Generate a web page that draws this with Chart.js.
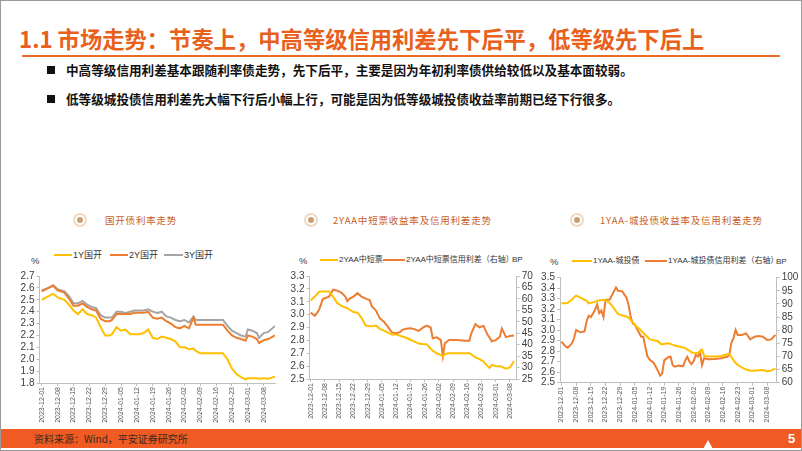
<!DOCTYPE html>
<html lang="zh-CN">
<head>
<meta charset="utf-8">
<title>市场走势</title>
<script src="https://cdn.jsdelivr.net/npm/chart.js@4.4.1/dist/chart.umd.min.js"></script>
<style>
  body { margin: 0; background: #fff; }
  .slide { position: relative; width: 802px; height: 451px; overflow: hidden; background: #fff;
           font-family: "Liberation Sans", "Noto Sans CJK SC", sans-serif; }
  .frame { position: absolute; left: 0; top: 0; width: 800px; height: 449px; border: 1px solid #9a9a9a; pointer-events: none; }
  .abs { position: absolute; white-space: nowrap; }
  .title { left: 19px; top: 24px; font-size: 22.3px; line-height: 28px; color: #e8601c; font-weight: 700; font-family: "Noto Sans CJK SC", sans-serif; }
  .rule { left: 22px; top: 55px; width: 758px; height: 2px; background: #ec6a2a; }
  .bullet { left: 66px; font-size: 12.6px; line-height: 16px; color: #111; font-weight: 700; font-family: "Noto Sans CJK SC", sans-serif; }
  .sq { left: 47px; width: 8px; height: 8px; background: #111; }
  .sec { font-size: 9.5px; line-height: 14px; color: #c8602a; letter-spacing: 0.8px; font-family: "Noto Sans CJK SC", sans-serif; top: 213px; }
  .icon { width: 10px; height: 10px; border-radius: 50%; border: 2px solid #efd9c2; background: #fff; top: 213px; }
  .icon::after { content: ""; position: absolute; left: 2px; top: 2px; width: 6px; height: 6px; border-radius: 50%; background: #c9a074; }
  .leg { font-size: 8px; line-height: 12px; color: #333; }
  .legline { height: 2px; }
  .unit { font-size: 9.5px; line-height: 12px; color: #404040; }
  canvas { position: absolute; }
  .footer { left: 0; top: 429px; width: 802px; height: 19px; background: #ef5b22; }
  .src { left: 34px; top: 432px; font-size: 10px; line-height: 13px; color: #3a2a20; font-family: "Noto Sans CJK SC", sans-serif; }
  .page { left: 788px; top: 430px; font-size: 13px; line-height: 17px; color: #fff; font-weight: 700; }
  .logo { left: 703px; top: 440px; width: 0; height: 0; border-left: 5px solid transparent; border-right: 5px solid transparent; border-bottom: 9px solid #fff; }
</style>
</head>
<body>
<div class="slide">
  <div class="abs title">1.1 市场走势：节奏上，中高等级信用利差先下后平，低等级先下后上</div>
  <div class="abs rule"></div>

  <div class="abs sq" style="top:66px"></div>
  <div class="abs bullet" style="top:62px">中高等级信用利差基本跟随利率债走势，先下后平，主要是因为年初利率债供给较低以及基本面较弱。</div>
  <div class="abs sq" style="top:95px"></div>
  <div class="abs bullet" style="top:91px">低等级城投债信用利差先大幅下行后小幅上行，可能是因为低等级城投债收益率前期已经下行很多。</div>

  <div class="abs icon" style="left:73px"></div>
  <div class="abs sec" style="left:105px">国开债利率走势</div>
  <div class="abs icon" style="left:304px"></div>
  <div class="abs sec" style="left:333px">2YAA中短票收益率及信用利差走势</div>
  <div class="abs icon" style="left:570px"></div>
  <div class="abs sec" style="left:600px">1YAA-城投债收益率及信用利差走势</div>

  <!-- chart 1 legend -->
  <div class="abs legline" style="left:54px;top:254px;width:18px;background:#ffc000"></div>
  <div class="abs leg" style="left:73px;top:249px;font-size:9px">1Y国开</div>
  <div class="abs legline" style="left:110px;top:254px;width:18px;background:#ed7d31"></div>
  <div class="abs leg" style="left:129px;top:249px;font-size:9px">2Y国开</div>
  <div class="abs legline" style="left:164px;top:254px;width:19px;background:#a5a5a5"></div>
  <div class="abs leg" style="left:184px;top:249px;font-size:9px">3Y国开</div>
  <div class="abs unit" style="left:31px;top:255px">%</div>

  <!-- chart 2 legend -->
  <div class="abs legline" style="left:320px;top:259px;width:18px;background:#ffc000"></div>
  <div class="abs leg" style="left:339px;top:254px">2YAA中短票</div>
  <div class="abs legline" style="left:383px;top:259px;width:22px;background:#ed7d31"></div>
  <div class="abs leg" style="left:406px;top:254px">2YAA中短票信用利差（右轴）</div>
  <div class="abs leg" style="left:512px;top:254px">BP</div>
  <div class="abs unit" style="left:299px;top:255px">%</div>

  <!-- chart 3 legend -->
  <div class="abs legline" style="left:572px;top:260px;width:20px;background:#ffc000"></div>
  <div class="abs leg" style="left:593px;top:255px">1YAA-城投债</div>
  <div class="abs legline" style="left:645px;top:260px;width:22px;background:#ed7d31"></div>
  <div class="abs leg" style="left:668px;top:255px">1YAA-城投债信用利差（右轴）</div>
  <div class="abs leg" style="left:776px;top:256px">BP</div>
  <div class="abs unit" style="left:550px;top:256px">%</div>

  <canvas id="c1" width="285" height="160" style="left:0;top:266px"></canvas>
  <canvas id="c2" width="260" height="160" style="left:285px;top:266px"></canvas>
  <canvas id="c3" width="262" height="160" style="left:540px;top:266px"></canvas>

  <div class="abs footer"></div>
  <div class="abs src">资料来源：Wind，平安证券研究所</div>
  <div class="abs logo"></div>
  <div class="abs page">5</div>
  <div class="frame"></div>
</div>

<script>
// x axis: day offset from 2023-12-01, labelled weekly
const tickDays = [0, 7, 14, 21, 28, 35, 42, 49, 56, 63, 70, 77, 84, 91, 98];
const tickLabels = ['2023-12-01', '2023-12-08', '2023-12-15', '2023-12-22', '2023-12-29',
    '2024-01-05', '2024-01-12', '2024-01-19', '2024-01-26', '2024-02-02',
    '2024-02-09', '2024-02-16', '2024-02-23', '2024-03-01', '2024-03-08'];

// 国开债利率 (%)
const gkDays = [0, 3, 5, 7, 10, 12, 14, 16, 18, 20, 22, 24, 26, 28, 30, 31, 33, 35, 37, 39,
    41, 43, 45, 47, 49, 51, 53, 55, 57, 59, 61, 63, 65, 67, 68, 70, 75, 80, 82, 84,
    86, 88, 90, 91, 93, 95, 96, 98, 100, 103];
const gk1Y = [2.50, 2.53, 2.55, 2.52, 2.50, 2.46, 2.41, 2.38, 2.42, 2.38, 2.37, 2.35, 2.27, 2.20, 2.20,
    2.21, 2.27, 2.24, 2.25, 2.21, 2.21, 2.21, 2.22, 2.25, 2.18, 2.17, 2.19, 2.18, 2.17, 2.15,
    2.10, 2.10, 2.085, 2.09, 2.07, 2.05, 2.05, 2.05, 2.00, 1.92, 1.875, 1.85, 1.83, 1.84, 1.84,
    1.84, 1.835, 1.84, 1.835, 1.855];
const gk2Y = [2.57, 2.60, 2.62, 2.58, 2.56, 2.51, 2.45, 2.45, 2.47, 2.44, 2.42, 2.41, 2.34, 2.32, 2.32,
    2.33, 2.38, 2.38, 2.38, 2.38, 2.39, 2.39, 2.39, 2.40, 2.35, 2.34, 2.35, 2.32, 2.30, 2.27,
    2.26, 2.28, 2.26, 2.35, 2.29, 2.29, 2.29, 2.29, 2.24, 2.20, 2.18, 2.17, 2.155, 2.20, 2.19,
    2.17, 2.135, 2.16, 2.17, 2.20];
const gk3Y = [2.58, 2.60, 2.62, 2.59, 2.57, 2.53, 2.47, 2.47, 2.49, 2.46, 2.44, 2.43, 2.37, 2.35, 2.35,
    2.35, 2.40, 2.40, 2.39, 2.40, 2.41, 2.41, 2.41, 2.42, 2.40, 2.39, 2.40, 2.36, 2.35, 2.33,
    2.32, 2.33, 2.31, 2.36, 2.33, 2.33, 2.33, 2.33, 2.28, 2.24, 2.22, 2.20, 2.19, 2.25, 2.24,
    2.22, 2.18, 2.22, 2.23, 2.28];

// 2YAA中短票 收益率(%) / 信用利差(BP)
const aaDays = [0, 2, 4, 5, 6, 7, 9, 11, 13, 15, 17, 18, 19, 21, 23, 25, 27, 29, 30, 32,
    34, 36, 38, 40, 42, 44, 45, 47, 49, 51, 53, 55, 57, 59, 60, 62, 64, 65, 66, 68,
    72, 76, 78, 79, 81, 83, 85, 87, 88, 89, 91, 93, 94, 96, 98, 100];
const aaYield = [3.11, 3.14, 3.175, 3.18, 3.18, 3.18, 3.18, 3.14, 3.09, 3.07, 3.055, 3.05, 3.04, 3.02, 3.015,
    2.975, 2.915, 2.91, 2.91, 2.915, 2.89, 2.875, 2.86, 2.845, 2.845, 2.835, 2.83, 2.82, 2.805, 2.79,
    2.775, 2.772, 2.77, 2.735, 2.72, 2.70, 2.685, 2.676, 2.694, 2.70, 2.70, 2.70, 2.70, 2.69, 2.668,
    2.655, 2.635, 2.60, 2.585, 2.61, 2.60, 2.60, 2.595, 2.58, 2.59, 2.64];
const aaSpread = [54.0, 52.6, 55.0, 57.5, 60.0, 60.3, 61.0, 64.0, 63.6, 62.8, 61.0, 59.0, 60.0, 61.0, 62.5,
    61.0, 60.1, 59.5, 56.8, 55.0, 51.5, 50.0, 47.8, 45.3, 45.0, 45.5, 46.5, 47.0, 47.2, 46.8,
    46.0, 47.3, 48.3, 47.5, 42.8, 43.2, 42.0, 35.0, 40.6, 42.0, 42.0, 41.7, 41.7, 45.0, 49.0,
    47.6, 48.2, 44.3, 43.0, 41.5, 42.0, 43.5, 47.1, 43.3, 43.8, 44.0];

// 1YAA-城投债 收益率(%) / 信用利差(BP)
const cityDays = [0, 2, 3, 5, 6, 7, 9, 11, 12, 13, 14, 16, 17, 18, 19, 20, 21, 23, 25, 26,
    27, 29, 31, 32, 33, 34, 35, 36, 37, 38, 39, 40, 41, 42, 44, 46, 47, 48, 49, 51,
    52, 53, 54, 56, 58, 59, 60, 61, 62, 63, 64, 65, 66, 67, 68, 70, 73, 76, 79, 80,
    81, 82, 83, 84, 86, 88, 90, 92, 94, 96, 98, 100, 102];
const cityYield = [3.256, 3.256, 3.26, 3.29, 3.315, 3.33, 3.31, 3.29, 3.28, 3.255, 3.26, 3.27, 3.28, 3.285, 3.285,
    3.29, 3.285, 3.26, 3.21, 3.18, 3.155, 3.14, 3.13, 3.12, 3.095, 3.075, 3.05, 3.03, 3.015, 2.995,
    2.975, 2.955, 2.935, 2.915, 2.905, 2.895, 2.875, 2.865, 2.87, 2.875, 2.87, 2.86, 2.855, 2.845, 2.835,
    2.83, 2.815, 2.805, 2.79, 2.785, 2.78, 2.785, 2.795, 2.815, 2.755, 2.75, 2.75, 2.755, 2.77, 2.77,
    2.745, 2.715, 2.69, 2.67, 2.645, 2.625, 2.614, 2.614, 2.618, 2.62, 2.61, 2.615, 2.636];
const citySpread = [75.6, 73.8, 73.3, 75.0, 77.0, 80.1, 79.2, 79.5, 83.5, 85.5, 85.0, 87.7, 89.8, 86.5, 87.5,
    85.0, 91.5, 91.7, 94.8, 96.3, 95.0, 94.8, 92.4, 89.5, 85.0, 82.5, 82.0, 80.5, 79.0, 77.5,
    77.5, 73.5, 70.0, 68.8, 67.5, 64.5, 62.7, 63.5, 68.5, 69.8, 69.9, 66.7, 66.1, 66.5, 66.3,
    68.5, 69.9, 68.0, 67.1, 68.2, 70.5, 70.0, 71.8, 66.7, 69.3, 68.9, 69.0, 69.3, 69.9, 70.5,
    75.2, 77.0, 80.1, 78.2, 78.2, 78.8, 76.5, 77.5, 77.8, 77.5, 76.3, 76.5, 78.2];

const YELLOW = '#ffc000';
const ORANGE = '#ed7d31';
const GREY = '#a5a5a5';
const axisColor = '#bfbfbf';
const labelColor = '#404040';

Chart.defaults.font.family = "'Liberation Sans', 'Noto Sans CJK SC', sans-serif";

function pts(days, vals) {
    return days.map((d, i) => ({ x: d, y: vals[i] }));
}

function line(data, color, axis) {
    return { data: data, borderColor: color, backgroundColor: color, borderWidth: 2,
             pointRadius: 0, tension: 0, yAxisID: axis || 'y' };
}

function xAxis(max, min, height) {
    return {
        type: 'linear', min: min, max: max,
        afterBuildTicks: s => { s.ticks = tickDays.map(v => ({ value: v })); },
        afterFit: s => { s.height = height; },
        ticks: { autoSkip: false, minRotation: 90, maxRotation: 90, padding: 1,
                 color: '#595959', font: { size: 7 }, callback: (v, i) => tickLabels[i] },
        grid: { drawOnChartArea: false, tickLength: 3, color: axisColor },
        border: { color: axisColor }
    };
}

function yAxis(min, max, step, width, pos, digits) {
    return {
        position: pos, min: min, max: max,
        afterFit: s => { s.width = width; },
        ticks: { stepSize: step, autoSkip: false, color: labelColor, font: { size: 10 }, padding: 2,
                 callback: v => v.toFixed(digits) },
        grid: { drawOnChartArea: false, tickLength: 3, color: axisColor },
        border: { color: axisColor }
    };
}

const baseOptions = {
    responsive: false,
    animation: false,
    plugins: { legend: { display: false }, tooltip: { enabled: false } }
};

// 国开债利率走势
new Chart(document.getElementById('c1'), {
    type: 'line',
    data: { datasets: [
        line(pts(gkDays, gk1Y), YELLOW),
        line(pts(gkDays, gk2Y), ORANGE),
        line(pts(gkDays, gk3Y), GREY)
    ] },
    options: Object.assign({}, baseOptions, {
        layout: { padding: { top: 10, right: 10, left: 0, bottom: 0 } },
        scales: {
            x: xAxis(103, -1, 43),
            y: yAxis(1.8, 2.7, 0.1, 39.5, 'left', 1)
        }
    })
});

// 2YAA中短票
new Chart(document.getElementById('c2'), {
    type: 'line',
    data: { datasets: [
        line(pts(aaDays, aaYield), YELLOW, 'y'),
        line(pts(aaDays, aaSpread), ORANGE, 'y1')
    ] },
    options: Object.assign({}, baseOptions, {
        layout: { padding: { top: 10, right: 0, left: 0, bottom: 0 } },
        scales: {
            x: xAxis(101.3, -0.6, 47),
            y: yAxis(2.5, 3.3, 0.1, 24.5, 'left', 1),
            y1: yAxis(25, 70, 5, 28.3, 'right', 0)
        }
    })
});

// 1YAA-城投债
new Chart(document.getElementById('c3'), {
    type: 'line',
    data: { datasets: [
        line(pts(cityDays, cityYield), YELLOW, 'y'),
        line(pts(cityDays, citySpread), ORANGE, 'y1')
    ] },
    options: Object.assign({}, baseOptions, {
        layout: { padding: { top: 11.7, right: 0, left: 0, bottom: 0 } },
        scales: {
            x: xAxis(102.6, -0.7, 43.3),
            y: yAxis(2.5, 3.5, 0.1, 20, 'left', 1),
            y1: yAxis(60, 100, 5, 25.3, 'right', 0)
        }
    })
});
</script>
</body>
</html>
